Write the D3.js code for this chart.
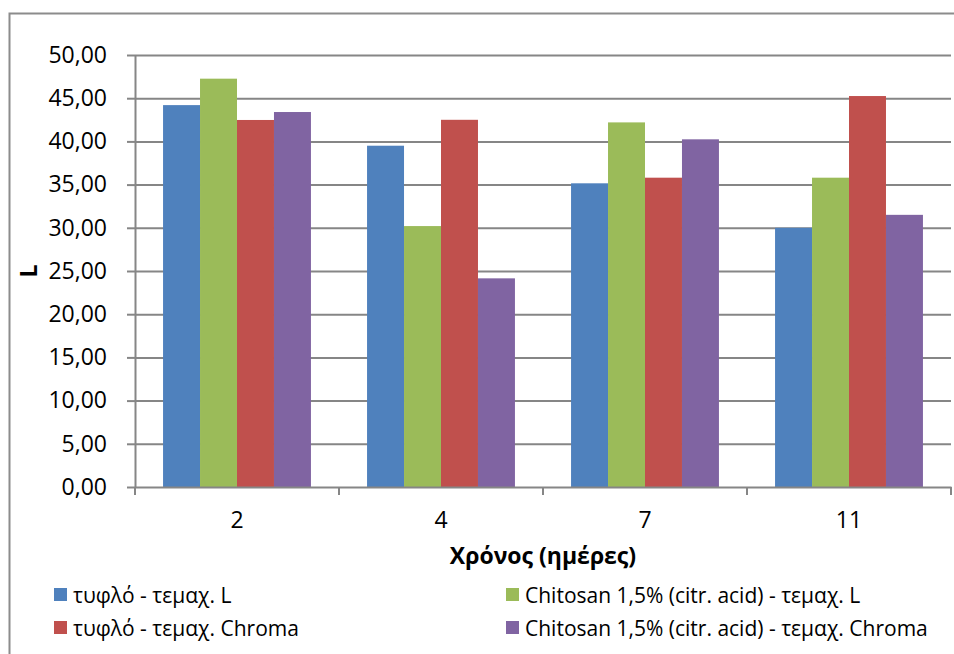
<!DOCTYPE html>
<html>
<head>
<meta charset="utf-8">
<script src="https://cdn.jsdelivr.net/npm/d3@7"></script>
<style>
  html, body { margin: 0; background: #fff; overflow: hidden; }
  svg { display: block; }
  svg text { font-family: "Open Sans", "DejaVu Sans", sans-serif; fill: #000; }
  .axis path, .axis line { stroke: #868686; stroke-width: 2px; }
  .grid line { stroke: #868686; stroke-width: 2px; }
</style>
</head>
<body>
<div id="chart"></div>
<script>
// Data
var days = ["2", "4", "7", "11"];
var seriesNames = [
  "τυφλό - τεμαχ. L",
  "Chitosan 1,5% (citr. acid) - τεμαχ. L",
  "τυφλό - τεμαχ. Chroma",
  "Chitosan 1,5% (citr. acid) - τεμαχ. Chroma"
];
var blankL = [44.2, 39.5, 35.15, 30.0];
var chitosanL = [47.26, 30.2, 42.2, 35.8];
var blankChroma = [42.48, 42.5, 35.8, 45.25];
var chitosanChroma = [43.4, 24.15, 40.24, 31.5];
var yTicks = [0, 5, 10, 15, 20, 25, 30, 35, 40, 45, 50];
var colors = ["#4F81BD", "#9BBB59", "#C0504D", "#8064A2"];

var seriesValues = [blankL, chitosanL, blankChroma, chitosanChroma];

var width = 954;
var height = 654;
var margins = { top: 55, right: 3, bottom: 167, left: 135 };
var chartWidth = width - margins.left - margins.right;
var chartHeight = height - margins.top - margins.bottom;

var svg = d3.select("#chart")
  .append("svg")
  .attr("width", width)
  .attr("height", height);

// outer frame: only left and top edges are inside the picture
svg.append("path")
  .attr("d", `M9.5,${height}V13.5H${width}`)
  .attr("fill", "none")
  .attr("stroke", "#8c8c8c")
  .attr("stroke-width", 2);

var chartElement = svg.append("g")
  .attr("transform", `translate(${margins.left},${margins.top})`);

var xScale = d3.scaleBand()
  .domain(days)
  .range([0, chartWidth])
  .paddingInner(0.275)
  .paddingOuter(0.1375);

var xInner = d3.scaleBand()
  .domain(d3.range(seriesNames.length))
  .range([0, xScale.bandwidth()]);

var yScale = d3.scaleLinear()
  .domain([0, 50])
  .range([chartHeight, 0]);

// grid
var grid = chartElement.append("g")
  .attr("class", "grid")
  .call(d3.axisLeft(yScale).tickValues(yTicks.slice(1)).tickSizeInner(-chartWidth).tickSizeOuter(0).tickFormat(""));
grid.select(".domain").remove();

// bars
seriesValues.forEach(function(values, s) {
  chartElement.append("g")
    .selectAll("rect")
    .data(values)
    .enter()
    .append("rect")
    .attr("x", (d, i) => xScale(days[i]) + xInner(s))
    .attr("y", d => yScale(d))
    .attr("width", xInner.bandwidth())
    .attr("height", d => chartHeight - yScale(d))
    .attr("fill", colors[s]);
});

// y axis
var yAxis = chartElement.append("g")
  .attr("class", "y axis")
  .call(d3.axisLeft(yScale)
    .tickValues(yTicks)
    .tickSize(8)
    .tickSizeOuter(0)
    .tickPadding(20)
    .tickFormat(d => d3.format(".2f")(d).replace(".", ",")));
yAxis.selectAll("text").style("font-size", "23px");

// x axis with ticks on category boundaries
var xAxis = chartElement.append("g")
  .attr("class", "x axis")
  .attr("transform", `translate(0,${chartHeight})`)
  .call(d3.axisBottom(xScale).tickSize(0).tickSizeOuter(0).tickPadding(25));
xAxis.selectAll("text").style("font-size", "23px");

var boundaries = d3.range(days.length + 1).map(i => i * chartWidth / days.length);
xAxis.selectAll(".boundary")
  .data(boundaries)
  .enter()
  .append("line")
  .attr("class", "boundary")
  .attr("x1", d => d)
  .attr("x2", d => d)
  .attr("y1", 0)
  .attr("y2", 8);

// axis titles
svg.append("text")
  .attr("transform", "translate(37,271) rotate(-90)")
  .attr("text-anchor", "middle")
  .style("font-size", "23px")
  .style("font-weight", "bold")
  .text("L");

svg.append("text")
  .attr("x", margins.left + chartWidth / 2)
  .attr("y", 564)
  .attr("text-anchor", "middle")
  .style("font-size", "23px")
  .style("font-weight", "bold")
  .text("Χρόνος (ημέρες)");

// legend
var legendPos = [[54, 595], [506, 595], [54, 628], [506, 628]];
var legend = svg.append("g").attr("class", "legend");
seriesNames.forEach(function(name, i) {
  var g = legend.append("g")
    .attr("transform", `translate(${legendPos[i][0]},${legendPos[i][1]})`);
  g.append("rect")
    .attr("x", 0)
    .attr("y", -7)
    .attr("width", 13)
    .attr("height", 13)
    .attr("fill", colors[i]);
  g.append("text")
    .attr("x", 19)
    .attr("y", 8)
    .style("font-size", "21px")
    .text(name);
});
</script>
</body>
</html>
